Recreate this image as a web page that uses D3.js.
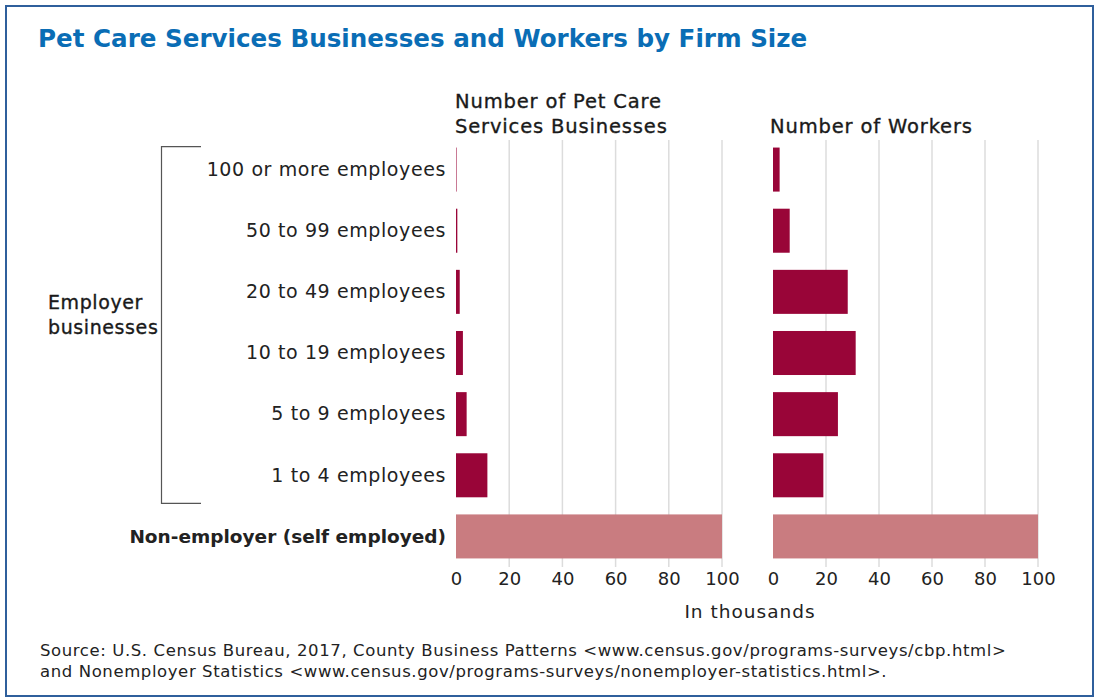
<!DOCTYPE html>
<html>
<head>
<meta charset="utf-8">
<script src="https://cdn.jsdelivr.net/npm/d3@7"></script>
<style>
  html, body { margin: 0; padding: 0; background: #fff; }
  svg { display: block; }
  text { font-family: "DejaVu Sans", "Noto Sans", sans-serif; }
</style>
</head>
<body>
<svg id="chart" width="1100" height="700"></svg>
<script>
// ---- Data ----
const categories = [
  "100 or more employees",
  "50 to 99 employees",
  "20 to 49 employees",
  "10 to 19 employees",
  "5 to 9 employees",
  "1 to 4 employees",
  "Non-employer (self employed)"
];
const businesses = [0.2, 0.5, 1.4, 2.6, 4.0, 11.8, 100]; // thousands
const workers    = [2.5, 6.3, 28.2, 31.2, 24.5, 19.0, 100]; // thousands
const xTicks = [0, 20, 40, 60, 80, 100];
const gridTicks = [20, 40, 60, 80, 100];
const panelTitles = [["Number of Pet Care", "Services Businesses"], ["Number of Workers"]];
const title = "Pet Care Services Businesses and Workers by Firm Size";
const groupLabel = ["Employer", "businesses"];
const axisLabel = "In thousands";
const sourceLines = [
  "Source: U.S. Census Bureau, 2017, County Business Patterns <www.census.gov/programs-surveys/cbp.html>",
  "and Nonemployer Statistics <www.census.gov/programs-surveys/nonemployer-statistics.html>."
];

// ---- Drawing ----
const svg = d3.select("#chart");
const barColor = "#990538";
const nonEmpColor = "#C97C80";
const ink = "#1a1a1a";

svg.append("rect").attr("x", 6).attr("y", 6).attr("width", 1087).attr("height", 690)
  .attr("fill", "none").attr("stroke", "#2F5F9C").attr("stroke-width", 2);

svg.append("text").attr("x", 38).attr("y", 47).text(title)
  .attr("fill", "#0A6DB5").attr("font-size", 24.6).attr("font-weight", 700);

const y = d3.scaleBand().domain(categories).range([139, 567]).paddingInner(0.28).paddingOuter(0.14);
const xL = d3.scaleLinear().domain([0, 100]).range([456, 722]);
const xR = d3.scaleLinear().domain([0, 100]).range([773, 1038]);

function medium(sel) {
  return sel.attr("fill", ink).attr("stroke", ink).attr("stroke-width", 0.35);
}

function panel(x, values, titleLines, titleX) {
  const g = svg.append("g");
  g.selectAll("line.grid").data(gridTicks).join("line")
    .attr("x1", d => x(d)).attr("x2", d => x(d))
    .attr("y1", 140).attr("y2", 567)
    .attr("stroke", "#dcdcdc").attr("stroke-width", 1.5);
  g.selectAll("rect.bar").data(values).join("rect")
    .attr("x", x(0))
    .attr("y", (d, i) => y(categories[i]))
    .attr("width", d => x(d) - x(0))
    .attr("height", y.bandwidth())
    .attr("fill", (d, i) => i === categories.length - 1 ? nonEmpColor : barColor);
  const axis = d3.axisBottom(x).tickValues(xTicks).tickSize(0).tickFormat(d3.format("d"));
  const ag = g.append("g").attr("transform", "translate(0,569)").call(axis);
  ag.select(".domain").remove();
  ag.selectAll("text").attr("font-size", 18).attr("fill", "#222")
    .attr("font-family", "DejaVu Sans, sans-serif").attr("dy", "0.71em");
  const n = titleLines.length;
  titleLines.forEach((t, i) => {
    g.append("text").attr("x", titleX).attr("y", 133 - (n - 1 - i) * 25)
      .text(t).attr("font-size", 19.5).attr("letter-spacing", 0.85).call(medium);
  });
}
panel(xL, businesses, panelTitles[0], 455);
panel(xR, workers, panelTitles[1], 770);

// Row labels
svg.selectAll("text.row").data(categories).join("text")
  .attr("class", "row")
  .attr("x", 446)
  .attr("y", d => y(d) + y.bandwidth() / 2)
  .attr("dy", "0.33em")
  .attr("text-anchor", "end")
  .attr("font-size", (d, i) => i === categories.length - 1 ? 18.5 : 19)
  .attr("letter-spacing", (d, i) => i === categories.length - 1 ? 0 : 0.6)
  .attr("font-weight", (d, i) => i === categories.length - 1 ? 700 : 400)
  .attr("fill", "#222")
  .text(d => d);

// Bracket
const bTop = y(categories[0]) - 1, bBot = y(categories[5]) + y.bandwidth() + 6;
svg.append("path")
  .attr("d", `M201,${bTop}H161.5V${bBot}H201`)
  .attr("fill", "none").attr("stroke", "#555").attr("stroke-width", 1.2);

groupLabel.forEach((t, i) => {
  svg.append("text").attr("x", 48).attr("y", 309 + i * 25).text(t)
    .attr("font-size", 19).attr("letter-spacing", 0.6).call(medium);
});

svg.append("text").attr("x", 750).attr("y", 618).attr("text-anchor", "middle")
  .text(axisLabel).attr("font-size", 18.5).attr("letter-spacing", 1).attr("fill", "#222");

sourceLines.forEach((t, i) => {
  svg.append("text").attr("x", 40).attr("y", 656 + i * 21).text(t)
    .attr("font-size", 16.5).attr("letter-spacing", 0.6).attr("fill", "#222");
});
</script>
</body>
</html>
